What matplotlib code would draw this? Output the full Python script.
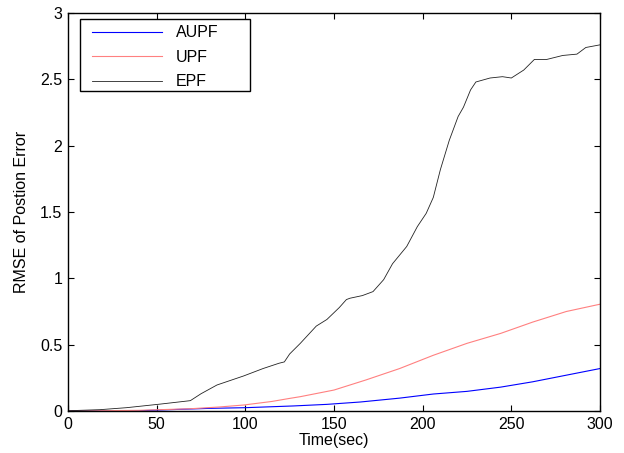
import numpy as np
import matplotlib
matplotlib.use("Agg")
import matplotlib.pyplot as plt
from matplotlib.patches import Rectangle

# Data
t_aupf = [0, 42, 80, 100, 127, 146, 165, 187, 206, 225, 244, 262, 281, 300]
rmse_aupf = [0.0, 0.003, 0.02, 0.025, 0.038, 0.05, 0.068, 0.097, 0.128, 0.148,
             0.18, 0.22, 0.27, 0.32]

t_upf = [0, 40, 69, 85, 99, 115, 125, 131, 150, 168, 187, 206, 225, 244, 262, 281, 300]
rmse_upf = [0.0, 0.005, 0.017, 0.03, 0.045, 0.072, 0.095, 0.108, 0.158, 0.234,
            0.32, 0.42, 0.51, 0.585, 0.67, 0.75, 0.805]

t_epf = [0, 18, 33, 52, 69, 75, 84, 99, 110, 119, 122, 125, 131, 140, 146, 153,
         157, 159, 166, 172, 178, 183, 191, 197, 202, 206, 210, 215, 220, 223,
         227, 230, 238, 245, 250, 257, 263, 270, 279, 287, 292, 300]
rmse_epf = [0.002, 0.01, 0.025, 0.052, 0.078, 0.13, 0.196, 0.264, 0.32, 0.36,
            0.37, 0.43, 0.51, 0.64, 0.69, 0.78, 0.84, 0.85, 0.87, 0.90, 0.99,
            1.11, 1.24, 1.39, 1.49, 1.61, 1.82, 2.04, 2.22, 2.29, 2.42, 2.48,
            2.51, 2.52, 2.51, 2.57, 2.65, 2.65, 2.68, 2.69, 2.74, 2.76]

x_ticks = [0, 50, 100, 150, 200, 250, 300]
y_ticks = [0, 0.5, 1, 1.5, 2, 2.5, 3]
y_ticklabels = ["0", "0.5", "1", "1.5", "2", "2.5", "3"]

fs = 11.5
plt.rcParams['font.family'] = ['Liberation Sans', 'DejaVu Sans']
plt.rcParams['font.size'] = fs

W, H = 624, 453
fig = plt.figure(figsize=(W / 100, H / 100), dpi=100)
ax = fig.add_axes([68 / W, 1 - 411 / H, 532 / W, 398 / H])

ax.plot(t_aupf, rmse_aupf, color='#0000ff', lw=0.8, label='AUPF')
ax.plot(t_upf, rmse_upf, color='#ff8080', lw=0.8, label='UPF')
ax.plot(t_epf, rmse_epf, color='#222222', lw=0.6, label='EPF')

ax.set_xlim(0, 300)
ax.set_ylim(0, 3)
ax.set_xticks(x_ticks)
ax.set_yticks(y_ticks)
ax.set_yticklabels(y_ticklabels)
ax.tick_params(direction='in', length=4, width=0.8, top=True, right=True,
               labelsize=fs, pad=4)
for s in ax.spines.values():
    s.set_linewidth(1.0)

ax.set_xlabel('Time(sec)', fontsize=fs, labelpad=1)
ax.set_ylabel('RMSE of Postion Error', fontsize=fs, labelpad=8)

# MATLAB-style legend box
fig.patches.append(Rectangle((79.5 / W, 1 - 90.5 / H), 170.5 / W, 71 / H,
                             transform=fig.transFigure, facecolor='white',
                             edgecolor='black', lw=1.0, zorder=3))
leg = fig.legend(loc='upper left', bbox_to_anchor=(89 / W, 1 - 22 / H),
                 frameon=False, fontsize=fs, handlelength=4.4,
                 handletextpad=0.85, labelspacing=0.6, borderaxespad=0,
                 borderpad=0.2)
leg.set_zorder(4)

fig.savefig('out.png', dpi=100)
